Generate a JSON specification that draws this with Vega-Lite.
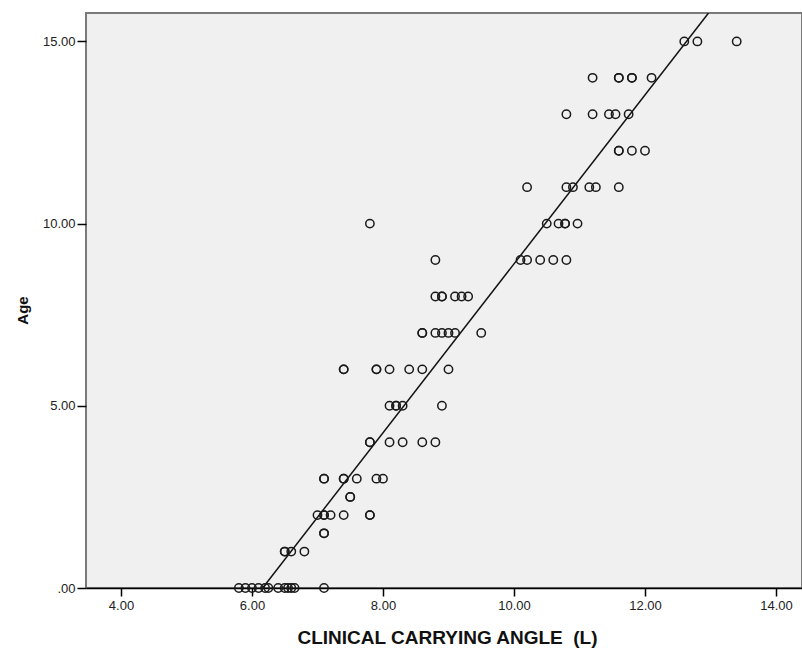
{
  "$schema": "https://vega.github.io/schema/vega-lite/v6.json",
  "autosize": {"type": "none"},
  "padding": {"left": 86, "top": 13, "right": 0, "bottom": 63},
  "width": 716,
  "height": 575,
  "background": "white",
  "config": {
    "view": {"fill": "#f0f0f0", "stroke": "#7a7a7a", "strokeWidth": 2},
    "font": "Liberation Sans"
  },
  "datasets": {
    "points": [
      {"angle": 12.6, "age": 15}, {"angle": 12.8, "age": 15}, {"angle": 13.4, "age": 15},
      {"angle": 11.2, "age": 14}, {"angle": 11.6, "age": 14}, {"angle": 11.6, "age": 14}, {"angle": 11.8, "age": 14}, {"angle": 11.8, "age": 14}, {"angle": 12.1, "age": 14},
      {"angle": 10.8, "age": 13}, {"angle": 11.2, "age": 13}, {"angle": 11.45, "age": 13}, {"angle": 11.55, "age": 13}, {"angle": 11.75, "age": 13},
      {"angle": 11.6, "age": 12}, {"angle": 11.6, "age": 12}, {"angle": 11.8, "age": 12}, {"angle": 12.0, "age": 12},
      {"angle": 10.2, "age": 11}, {"angle": 10.8, "age": 11}, {"angle": 10.9, "age": 11}, {"angle": 11.15, "age": 11}, {"angle": 11.25, "age": 11}, {"angle": 11.6, "age": 11},
      {"angle": 7.8, "age": 10}, {"angle": 10.5, "age": 10}, {"angle": 10.68, "age": 10}, {"angle": 10.78, "age": 10}, {"angle": 10.78, "age": 10}, {"angle": 10.97, "age": 10},
      {"angle": 8.8, "age": 9}, {"angle": 10.1, "age": 9}, {"angle": 10.2, "age": 9}, {"angle": 10.4, "age": 9}, {"angle": 10.6, "age": 9}, {"angle": 10.8, "age": 9},
      {"angle": 8.8, "age": 8}, {"angle": 8.9, "age": 8}, {"angle": 8.9, "age": 8}, {"angle": 9.1, "age": 8}, {"angle": 9.2, "age": 8}, {"angle": 9.3, "age": 8},
      {"angle": 8.6, "age": 7}, {"angle": 8.6, "age": 7}, {"angle": 8.8, "age": 7}, {"angle": 8.9, "age": 7}, {"angle": 9.0, "age": 7}, {"angle": 9.1, "age": 7}, {"angle": 9.5, "age": 7},
      {"angle": 7.4, "age": 6}, {"angle": 7.4, "age": 6}, {"angle": 7.9, "age": 6}, {"angle": 7.9, "age": 6}, {"angle": 8.1, "age": 6}, {"angle": 8.4, "age": 6}, {"angle": 8.6, "age": 6}, {"angle": 9.0, "age": 6},
      {"angle": 8.1, "age": 5}, {"angle": 8.2, "age": 5}, {"angle": 8.2, "age": 5}, {"angle": 8.3, "age": 5}, {"angle": 8.9, "age": 5},
      {"angle": 7.8, "age": 4}, {"angle": 7.8, "age": 4}, {"angle": 8.1, "age": 4}, {"angle": 8.3, "age": 4}, {"angle": 8.6, "age": 4}, {"angle": 8.8, "age": 4},
      {"angle": 7.1, "age": 3}, {"angle": 7.1, "age": 3}, {"angle": 7.4, "age": 3}, {"angle": 7.4, "age": 3}, {"angle": 7.6, "age": 3}, {"angle": 7.9, "age": 3}, {"angle": 8.0, "age": 3},
      {"angle": 7.5, "age": 2.5}, {"angle": 7.5, "age": 2.5},
      {"angle": 7.0, "age": 2}, {"angle": 7.1, "age": 2}, {"angle": 7.1, "age": 2}, {"angle": 7.2, "age": 2}, {"angle": 7.4, "age": 2}, {"angle": 7.8, "age": 2}, {"angle": 7.8, "age": 2},
      {"angle": 7.1, "age": 1.5}, {"angle": 7.1, "age": 1.5},
      {"angle": 6.5, "age": 1}, {"angle": 6.5, "age": 1}, {"angle": 6.6, "age": 1}, {"angle": 6.8, "age": 1},
      {"angle": 5.8, "age": 0}, {"angle": 5.9, "age": 0}, {"angle": 6.0, "age": 0}, {"angle": 6.1, "age": 0}, {"angle": 6.2, "age": 0}, {"angle": 6.25, "age": 0}, {"angle": 6.4, "age": 0}, {"angle": 6.5, "age": 0}, {"angle": 6.55, "age": 0}, {"angle": 6.6, "age": 0}, {"angle": 6.65, "age": 0}, {"angle": 7.1, "age": 0}
    ],
    "fit": [
      {"angle": 6.163, "age": 0},
      {"angle": 12.97, "age": 15.78}
    ]
  },
  "layer": [
    {
      "data": {"name": "fit"},
      "mark": {"type": "line", "color": "#111", "strokeWidth": 1.5, "clip": true},
      "encoding": {
        "x": {"field": "angle", "type": "quantitative"},
        "y": {"field": "age", "type": "quantitative"}
      }
    },
    {
      "data": {"name": "points"},
      "mark": {"type": "point", "shape": "circle", "filled": false, "color": "#1a1a1a", "size": 70, "strokeWidth": 1.5, "opacity": 1},
      "encoding": {
        "x": {
          "field": "angle", "type": "quantitative",
          "scale": {"domain": [3.466, 14.397], "nice": false, "zero": false},
          "axis": {
            "values": [4, 6, 8, 10, 12, 14],
            "labelExpr": "format(datum.value, '.2f')",
            "grid": false, "domainColor": "#000", "domainWidth": 1.5,
            "tickColor": "#000", "tickSize": 8, "tickWidth": 1.5,
            "labelFont": "Liberation Sans", "labelFontSize": 13, "labelColor": "#222", "labelPadding": 3,
            "title": "CLINICAL CARRYING ANGLE \u00a0(L)",
            "titleFont": "Liberation Sans", "titleFontSize": 19, "titleFontWeight": "bold", "titleColor": "#111",
            "titleX": 361, "titleY": 49, "titleBaseline": "middle", "titleAnchor": null
          }
        },
        "y": {
          "field": "age", "type": "quantitative",
          "scale": {"domain": [0, 15.78], "nice": false},
          "axis": {
            "values": [0, 5, 10, 15],
            "labelExpr": "datum.value == 0 ? '.00' : format(datum.value, '.2f')",
            "grid": false, "domain": false,
            "tickColor": "#000", "tickSize": 9, "tickWidth": 1.5,
            "labelFont": "Liberation Sans", "labelFontSize": 13, "labelColor": "#222", "labelPadding": 2,
            "title": "Age",
            "titleFont": "Liberation Sans", "titleFontSize": 15, "titleFontWeight": "bold", "titleColor": "#111",
            "titleX": -64, "titleY": 297, "titleAngle": -90, "titleBaseline": "middle", "titleAlign": "center"
          }
        }
      }
    },
    {
      "mark": {"type": "text", "font": "Liberation Sans", "fontSize": 13, "color": "#222", "align": "center", "baseline": "middle"},
      "encoding": {
        "x": {"datum": 13.08, "type": "quantitative"},
        "y": {"datum": 2.2, "type": "quantitative"},
        "text": {"value": "R Sq Linear = 0.94"}
      }
    }
  ]
}
